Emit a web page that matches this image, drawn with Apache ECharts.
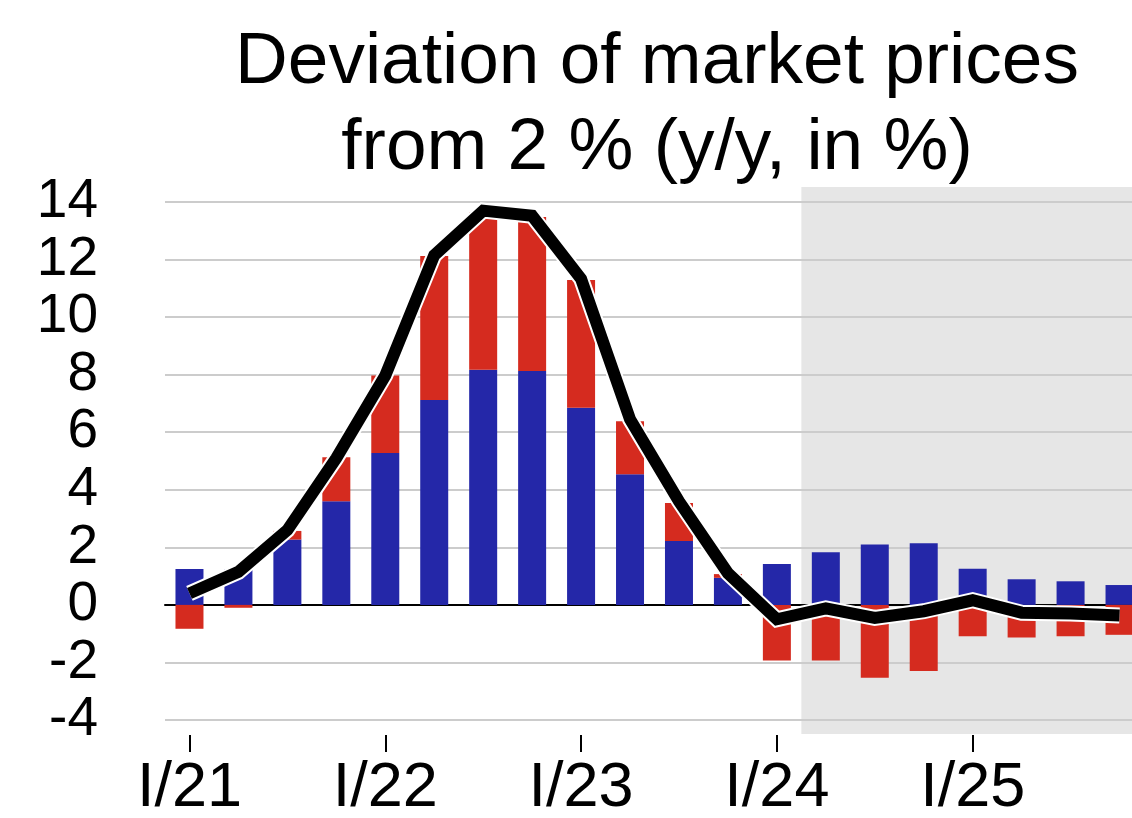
<!DOCTYPE html>
<html>
<head>
<meta charset="utf-8">
<script src="https://cdn.jsdelivr.net/npm/echarts@6/dist/echarts.min.js"></script>
<style>html,body{margin:0;padding:0;background:#fff;}#c{width:1132px;height:818px;}</style>
</head>
<body>
<div id="c"></div>
<script>
var categories = ['I/21','II/21','III/21','IV/21','I/22','II/22','III/22','IV/22','I/23','II/23','III/23','IV/23','I/24','II/24','III/24','IV/24','I/25','II/25','III/25','IV/25'];
var blueValues = [1.25, 1.25, 2.27, 3.6, 5.28, 7.12, 8.17, 8.13, 6.85, 4.54, 2.22, 0.94, 1.42, 1.83, 2.1, 2.14, 1.26, 0.89, 0.82, 0.69];
var redValues = [-0.83, -0.1, 0.3, 1.53, 2.69, 5.0, 5.47, 5.35, 4.44, 1.84, 1.32, 0.13, -1.93, -1.93, -2.53, -2.3, -1.09, -1.13, -1.09, -1.04];
var lineValues = [0.4, 1.15, 2.6, 5.1, 7.97, 12.15, 13.7, 13.52, 11.33, 6.45, 3.6, 1.1, -0.5, -0.12, -0.45, -0.22, 0.16, -0.27, -0.3, -0.37];
var yTicks = {min: -4, max: 14, interval: 2};
var forecastStart = 'II/24';
var titleText = 'Deviation of market prices\nfrom 2 % (y/y, in %)';

var startIdx = categories.indexOf(forecastStart);
var chart = echarts.init(document.getElementById('c'), null, {renderer: 'canvas'});
var option = {
  animation: false,
  backgroundColor: '#ffffff',
  title: {
    text: titleText,
    left: 657,
    top: 20,
    padding: 0,
    textAlign: 'center',
    textStyle: {fontFamily: 'Liberation Sans, Arial, sans-serif', fontSize: 73, fontWeight: 'normal', color: '#000', lineHeight: 86}
  },
  grid: [
    {left: 165, width: 979, top: 202, height: 518, containLabel: false, outerBoundsMode: 'none'},
    {left: 165, width: 979, top: 187, height: 547, containLabel: false, outerBoundsMode: 'none'}
  ],
  xAxis: [
    {
      type: 'category', gridIndex: 0, data: categories, position: 'bottom', offset: 15,
      axisLine: {show: false, onZero: false},
      axisTick: {show: true, alignWithLabel: true, interval: 3, length: 17, lineStyle: {color: '#000', width: 2}},
      axisLabel: {interval: 3, margin: 22, fontFamily: 'Liberation Sans Narrow, Arial Narrow, Liberation Sans, sans-serif', fontSize: 63, color: '#000'},
      splitLine: {show: false}
    },
    {
      type: 'category', gridIndex: 0, data: categories, position: 'top',
      axisLine: {show: true, onZero: true, lineStyle: {color: '#000', width: 2}},
      axisTick: {show: false}, axisLabel: {show: false}, splitLine: {show: false}
    },
    {
      type: 'value', gridIndex: 1, min: 0, max: categories.length, show: false
    }
  ],
  yAxis: [
    {
      type: 'value', gridIndex: 0, min: yTicks.min, max: yTicks.max, interval: yTicks.interval,
      axisLine: {show: false}, axisTick: {show: false},
      axisLabel: {margin: 67, fontFamily: 'Liberation Sans, Arial, sans-serif', fontSize: 55, color: '#000'},
      splitLine: {show: true, lineStyle: {color: '#cccccc', width: 2}}
    },
    {
      type: 'value', gridIndex: 1, min: 0, max: 1, show: false
    }
  ],
  series: [
    {
      name: 'forecast', type: 'line', xAxisIndex: 2, yAxisIndex: 1, data: [], z: -1, silent: true,
      markArea: {silent: true, z: -1, itemStyle: {color: '#e6e6e6'}, data: [[{xAxis: startIdx}, {xAxis: categories.length}]]}
    },
    {
      name: 'blue', type: 'bar', stack: 'total', xAxisIndex: 0, yAxisIndex: 0, data: blueValues,
      barWidth: 28, itemStyle: {color: '#2427a8'}
    },
    {
      name: 'red', type: 'bar', stack: 'total', xAxisIndex: 0, yAxisIndex: 0, data: redValues,
      barWidth: 28, itemStyle: {color: '#d52b1f'}
    },
    {
      name: 'outline', type: 'line', xAxisIndex: 0, yAxisIndex: 0, data: lineValues, symbol: 'none', z: 3,
      lineStyle: {color: '#ffffff', width: 16, cap: 'butt', join: 'miter'}
    },
    {
      name: 'total', type: 'line', xAxisIndex: 0, yAxisIndex: 0, data: lineValues, symbol: 'none', z: 4,
      lineStyle: {color: '#000000', width: 12, cap: 'butt', join: 'miter'}
    }
  ]
};
chart.setOption(option);
</script>
</body>
</html>
